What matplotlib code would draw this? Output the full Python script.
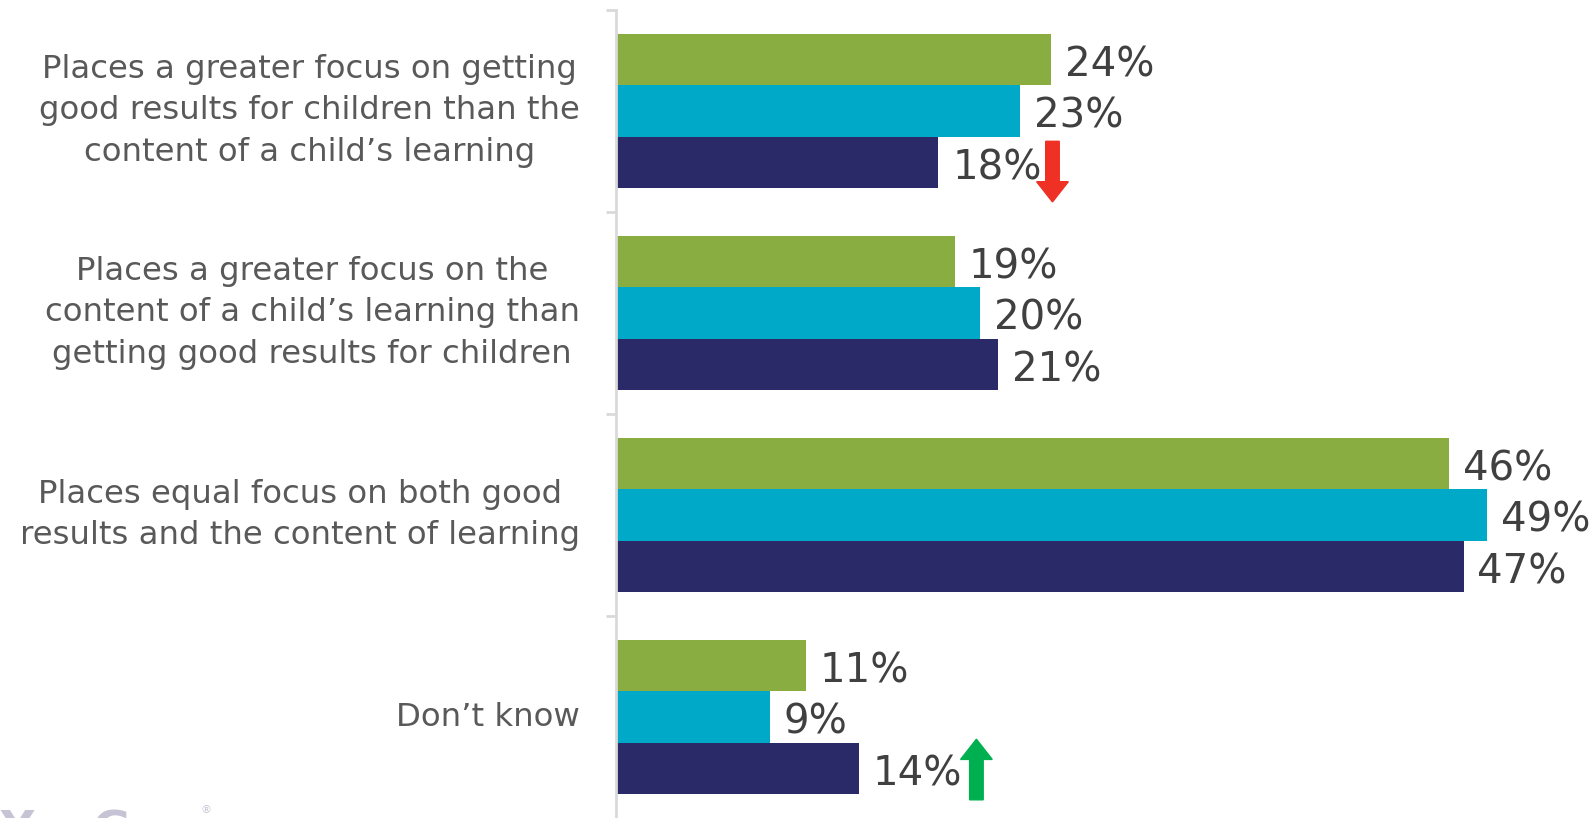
import numpy as np
import matplotlib.pyplot as plt
from matplotlib.patches import FancyArrow

# categories, top to bottom
categories = [
    "Places a greater focus on getting\ngood results for children than the\ncontent of a child\u2019s learning",
    "Places a greater focus on the\ncontent of a child\u2019s learning than\ngetting good results for children",
    "Places equal focus on both good\nresults and the content of learning",
    "Don\u2019t know",
]
# printed labels for the three waves (green, cyan, navy)
wave_a = [24, 19, 46, 11]
wave_b = [23, 20, 49, 9]
wave_c = [18, 21, 47, 14]
# bar lengths as drawn in the picture (unrounded)
bar_a = [24.0, 18.7, 46.0, 10.5]
bar_b = [22.3, 20.1, 48.1, 8.5]
bar_c = [17.8, 21.1, 46.8, 13.4]
colors = ["#8AAD41", "#00A9C8", "#2B2A69"]

fig = plt.figure(figsize=(15.94, 8.18), dpi=100)
ax = fig.add_axes([616 / 1594, 0.0, 1 - 616 / 1594, 1 - 10 / 818])

y = np.arange(len(categories))
h = 0.255
series = [(bar_a, wave_a), (bar_b, wave_b), (bar_c, wave_c)]
for k, ((bars, labs), col) in enumerate(zip(series, colors)):
    pos = y + (k - 1) * h
    ax.barh(pos, bars, height=h, color=col)
    for p, b, v in zip(pos, bars, labs):
        ax.annotate(f"{v}%", (b, p), xytext=(10, -4), textcoords="offset points",
                    va="center", ha="left", fontsize=29, color="#404040")

ax.set_xlim(0, 54)
ax.set_ylim(3.5, -0.5)

# category labels
for yi, lab in zip(y, categories):
    ax.text(-2.0, yi, lab, ha="right", va="center", multialignment="center",
            fontsize=23.3, color="#595959", linespacing=1.42)

for s in ["top", "right", "bottom"]:
    ax.spines[s].set_visible(False)
ax.spines["left"].set_color("#d9d9d9")
ax.spines["left"].set_linewidth(2)
ax.set_xticks([])
ax.set_yticks([-0.5, 0.5, 1.5, 2.5])
ax.set_yticklabels([])
ax.tick_params(axis="y", length=7, width=2, color="#d9d9d9")

# change markers
ax.add_patch(FancyArrow(24.1, 0.15, 0, 0.30, width=0.75, head_width=1.75,
                        head_length=0.1, length_includes_head=True,
                        color="#EE3124", clip_on=False))
ax.add_patch(FancyArrow(19.9, 3.41, 0, -0.30, width=0.75, head_width=1.75,
                        head_length=0.1, length_includes_head=True,
                        color="#00B050", clip_on=False))

# logo, mostly cut off at the bottom
fig.text(0.0, -0.033, "YouGov", fontsize=33, fontweight="bold", color="#c6c4d4")
fig.text(0.126, 0.006, "\u00ae", fontsize=8, color="#c6c4d4")

fig.savefig("out.png", dpi=100)
